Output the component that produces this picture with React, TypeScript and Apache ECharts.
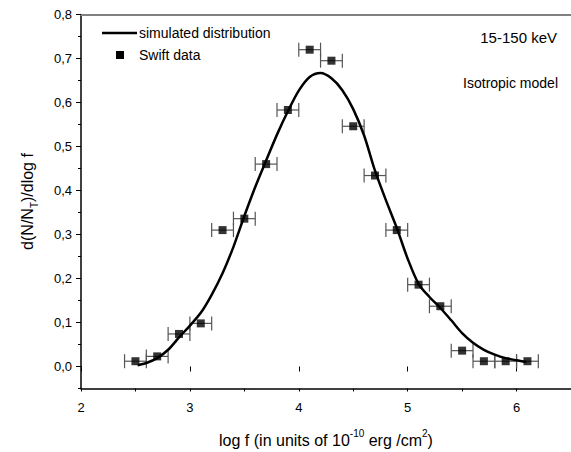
import React, { useEffect, useRef } from "react";
import * as echarts from "echarts";

const dataX = [2.5, 2.7, 2.9, 3.1, 3.3, 3.5, 3.7, 3.9, 4.1, 4.3, 4.5, 4.7, 4.9, 5.1, 5.3, 5.5, 5.7, 5.9, 6.1];
const dataY = [0.012, 0.023, 0.074, 0.098, 0.31, 0.336, 0.46, 0.583, 0.72, 0.695, 0.546, 0.434, 0.31, 0.186, 0.137, 0.036, 0.012, 0.012, 0.012];
const xErr = [0.1, 0.1, 0.1, 0.1, 0.1, 0.1, 0.1, 0.1, 0.1, 0.1, 0.1, 0.1, 0.1, 0.1, 0.1, 0.1, 0.1, 0.1, 0.1];

const curveX = [2.52, 2.6, 2.7, 2.8, 2.9, 3.0, 3.1, 3.2, 3.3, 3.4, 3.5, 3.6, 3.7, 3.8, 3.9, 4.0, 4.1, 4.2, 4.3, 4.4, 4.5, 4.6, 4.7, 4.8, 4.9, 5.0, 5.1, 5.2, 5.3, 5.4, 5.5, 5.6, 5.7, 5.8, 5.9, 6.0, 6.09];
const curveY = [0.003, 0.008, 0.019, 0.038, 0.066, 0.093, 0.122, 0.163, 0.212, 0.272, 0.342, 0.408, 0.468, 0.527, 0.58, 0.627, 0.658, 0.667, 0.655, 0.628, 0.585, 0.525, 0.445, 0.378, 0.315, 0.245, 0.188, 0.158, 0.133, 0.105, 0.076, 0.054, 0.038, 0.027, 0.019, 0.014, 0.01];

const yTickValues = [0, 0.1, 0.2, 0.3, 0.4, 0.5, 0.6, 0.7, 0.8];
const yTickLabels = ["0,0", "0,1", "0,2", "0,3", "0,4", "0,5", "0,6", "0,7", "0,8"];
const xTickValues = [2, 3, 4, 5, 6];
const xTickLabels = ["2", "3", "4", "5", "6"];

const FONT = "Liberation Sans, Arial, sans-serif";

export default function App() {
  const ref = useRef<HTMLDivElement>(null);
  useEffect(() => {
    if (!ref.current) return;
    const chart = echarts.init(ref.current, undefined, { renderer: "svg" });
    const errData = dataX.map((x, i) => [x, dataY[i], xErr[i]]);
    chart.setOption({
      animation: false,
      backgroundColor: "#ffffff",
      textStyle: { fontFamily: FONT },
      grid: { left: 81, right: 0, top: 14.5, bottom: 63.5, containLabel: false, outerBoundsMode: "none" },
      xAxis: [
        {
          type: "value",
          min: 2,
          max: 6.5,
          interval: 0.5,
          position: "bottom",
          axisLine: { show: true, onZero: false, lineStyle: { color: "#000", width: 1.5 } },
          axisTick: { show: true, inside: false, length: 3, lineStyle: { color: "#000" } },
          splitLine: { show: false },
          axisLabel: {
            color: "#000",
            fontSize: 13,
            fontFamily: FONT,
            margin: 12,
            formatter: (v: number) => {
              const k = Math.round(v * 10);
              if (k % 10 !== 0) return "";
              const idx = xTickValues.indexOf(k / 10);
              return idx >= 0 ? xTickLabels[idx] : "";
            },
          },
          name: "{a|log f (in units of 10}{sup|-10}{a| erg /cm}{sup|2}{a|)}",
          nameLocation: "middle",
          nameGap: 40,
          nameTextStyle: {
            rich: {
              a: { fontSize: 16, fontFamily: FONT, color: "#000", lineHeight: 20, verticalAlign: "bottom" },
              sup: { fontSize: 10, fontFamily: FONT, color: "#000", lineHeight: 20, verticalAlign: "top", padding: [0, 0, 8, 0] },
            },
          },
        },
        {
          type: "value",
          min: 2,
          max: 6.5,
          position: "top",
          axisLine: { show: true, onZero: false, lineStyle: { color: "#808080", width: 2 } },
          axisTick: { show: false },
          axisLabel: { show: false },
          splitLine: { show: false },
        },
        {
          type: "value",
          min: 2,
          max: 6.5,
          position: "bottom",
          axisLine: { show: false },
          axisTick: { show: true, inside: false, length: 5, customValues: xTickValues, lineStyle: { color: "#000" } },
          axisLabel: { show: false },
          splitLine: { show: false },
        },
      ],
      yAxis: [
        {
          type: "value",
          min: -0.05,
          max: 0.8,
          interval: 0.05,
          position: "left",
          axisLine: { show: true, onZero: false, lineStyle: { color: "#000", width: 1.5 } },
          axisTick: { show: true, inside: false, length: 3, lineStyle: { color: "#000" } },
          splitLine: { show: false },
          axisLabel: {
            color: "#000",
            fontSize: 13,
            fontFamily: FONT,
            margin: 9,
            showMaxLabel: true,
            formatter: (v: number) => {
              const k = Math.round(v * 100);
              if (k < 0 || k % 10 !== 0) return "";
              return yTickLabels[k / 10] ?? "";
            },
          },
          name: "{a|d(N/N}{sub|T}{a|)/dlog f}",
          nameLocation: "middle",
          nameGap: 42,
          nameRotate: 90,
          nameTextStyle: {
            rich: {
              a: { fontSize: 16, fontFamily: FONT, color: "#000", lineHeight: 20, verticalAlign: "top" },
              sub: { fontSize: 10, fontFamily: FONT, color: "#000", lineHeight: 20, verticalAlign: "bottom", padding: [8, 0, 0, 0] },
            },
          },
        },
        {
          type: "value",
          min: -0.05,
          max: 0.8,
          position: "left",
          axisLine: { show: false },
          axisTick: { show: true, inside: false, length: 5, customValues: yTickValues, lineStyle: { color: "#000" } },
          axisLabel: { show: false },
          splitLine: { show: false },
        },
      ],
      series: [
        {
          name: "error",
          type: "custom",
          xAxisIndex: 0,
          yAxisIndex: 0,
          data: errData,
          z: 2,
          renderItem: (params: any, api: any) => {
            const x = api.value(0);
            const y = api.value(1);
            const e = api.value(2);
            const p1 = api.coord([x - e, y]);
            const p2 = api.coord([x + e, y]);
            const h = 7;
            const st = { stroke: "#555", lineWidth: 1.2 };
            return {
              type: "group",
              children: [
                { type: "line", shape: { x1: p1[0], y1: p1[1], x2: p2[0], y2: p2[1] }, style: st },
                { type: "line", shape: { x1: p1[0], y1: p1[1] - h, x2: p1[0], y2: p1[1] + h }, style: st },
                { type: "line", shape: { x1: p2[0], y1: p2[1] - h, x2: p2[0], y2: p2[1] + h }, style: st },
              ],
            };
          },
        },
        {
          name: "simulated distribution",
          type: "line",
          xAxisIndex: 0,
          yAxisIndex: 0,
          data: curveX.map((x, i) => [x, curveY[i]]),
          smooth: 0.3,
          symbol: "none",
          lineStyle: { color: "#000", width: 2.5 },
          z: 3,
        },
        {
          name: "Swift data",
          type: "scatter",
          xAxisIndex: 0,
          yAxisIndex: 0,
          data: dataX.map((x, i) => [x, dataY[i]]),
          symbol: "rect",
          symbolSize: 8,
          itemStyle: { color: "#000" },
          z: 4,
        },
      ],
      graphic: [
        { type: "line", shape: { x1: 102, y1: 33, x2: 137, y2: 33 }, style: { stroke: "#000", lineWidth: 2.5 } },
        { type: "text", x: 139, y: 33, style: { text: "simulated distribution", fontSize: 14, fontFamily: FONT, fill: "#000", verticalAlign: "middle" } },
        { type: "rect", shape: { x: 116, y: 51, width: 8, height: 8 }, style: { fill: "#000" } },
        { type: "text", x: 139, y: 55, style: { text: "Swift data", fontSize: 14, fontFamily: FONT, fill: "#000", verticalAlign: "middle" } },
        { type: "text", x: 557, y: 37, style: { text: "15-150 keV", fontSize: 15, fontFamily: FONT, fill: "#000", align: "right", verticalAlign: "middle" } },
        { type: "text", x: 558, y: 83, style: { text: "Isotropic model", fontSize: 14, fontFamily: FONT, fill: "#000", align: "right", verticalAlign: "middle" } },
      ],
    });
    return () => chart.dispose();
  }, []);
  return <div ref={ref} style={{ position: "absolute", left: 0, top: 0, width: 571, height: 452 }} />;
}
